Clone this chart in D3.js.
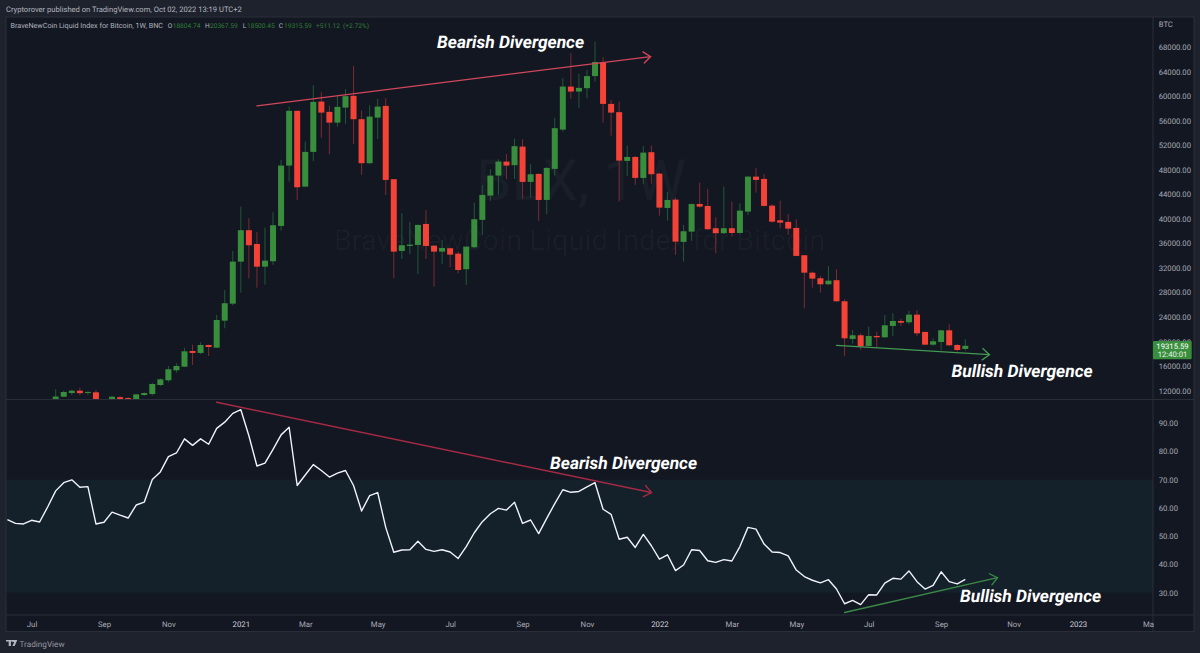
<!DOCTYPE html>
<html><head><meta charset="utf-8">
<script src="https://cdn.jsdelivr.net/npm/d3@7/dist/d3.min.js"></script>
<style>
html,body{margin:0;padding:0;background:#1e222d;overflow:hidden}
svg{display:block;text-rendering:geometricPrecision}
text{font-family:Roboto,sans-serif}
</style></head><body><svg id="c" width="1200" height="653"></svg>
<script>
// Weekly candles, week 0 = 27 Jul 2020
const opens=[9900,11020,11625,12000,11750,11740,10250,10400,10950,10800,10600,11300,11460,12930,13700,15330,15910,18470,18150,19450,19010,23410,26180,33030,38150,35900,32210,33090,38840,48680,57600,45250,50910,59110,57430,55680,58130,60040,56240,49070,56500,58400,46460,34770,35580,35750,39170,35630,34660,35210,34330,31790,35370,39830,43790,47050,49330,48740,51770,46020,47320,43080,48140,54540,61550,60740,61290,63260,65530,58730,57380,49440,50090,46670,50860,47370,41780,43130,36240,37920,42430,42100,38470,37660,38470,37700,41180,46880,46510,42150,39770,39500,38520,34070,31230,30320,29340,30000,26570,20430,21030,19290,20920,20700,22550,23360,23150,24390,21570,19500,19940,21840,19450,18804.74];
const closes=[11050,11790,12000,11600,11800,10400,10400,11020,10600,10600,11400,11620,13090,13850,15490,16030,18420,18150,19450,19120,23520,26250,33030,38150,35700,32210,33190,38960,48680,57600,45150,50910,59060,57310,55680,58240,59990,56240,49070,56660,58290,46340,34660,35700,35800,39010,35580,34660,35260,34170,31670,35470,39940,43900,47050,49330,48680,51840,46020,47270,43080,48300,54770,61550,60740,61340,63260,65550,58730,57310,49490,50090,46670,50790,47270,41830,43080,36290,37980,42410,41990,38310,37660,38470,37700,41340,46880,46340,42110,39540,39380,38410,33960,31230,30260,29340,29930,26570,20540,21030,19240,20920,20700,22660,23360,23080,24390,21350,19500,20050,21840,19400,18630,19315.59];
const highs=[12230,12000,12160,12490,11900,12110,10600,11130,11100,10950,11450,11740,13300,14020,16030,16470,19010,19500,19890,19500,24340,28410,34770,42000,40100,37820,38570,41080,49600,58290,57650,52590,61780,60640,58460,60040,61130,64920,57640,58490,59550,59660,46500,40920,39500,39100,41450,35700,36560,35300,34660,35500,42640,45480,48090,49720,50580,53030,52980,48900,47400,48400,56450,62920,67000,63620,64280,68890,66340,59380,59110,51940,50200,51890,51940,47500,44390,43460,39010,42500,45900,44880,40260,45250,42810,42550,47000,48250,47320,42380,42970,40800,39940,34100,31400,30700,32330,31790,26900,21890,21350,22430,21620,24340,24620,23690,25040,25150,21650,20540,21900,22820,19600,20367.59];
const lows=[9800,10950,11300,11300,11300,10000,9900,10200,10100,10200,10400,11150,11200,12750,13370,14930,15860,16190,17950,17650,18950,22170,25900,27970,30320,28790,29280,32500,38080,46070,43080,45150,49390,53240,50530,55030,55470,52210,47160,48900,53000,43900,30320,33470,34280,31020,33470,28950,32650,32110,31130,29230,35200,37380,42920,43900,46460,46510,43250,43460,39660,40750,47050,54220,59550,58080,59660,62370,55680,53560,42810,47000,45530,45640,45740,40530,39710,34120,33030,36400,41830,38190,34400,37500,37100,37600,40590,44270,41990,39380,38470,37380,33900,25430,28790,27970,29200,26500,17660,19660,18680,19200,19070,20640,20920,22550,22820,20920,19400,19300,18630,19300,18360,18500.45];
// RSI, first point is 6 weeks before week 0
const rsiFirstWeek=-6;
const rsi=[55.8,54.5,54.3,55.6,55.0,60.3,66.0,68.9,69.9,67.3,67.5,54.3,54.9,58.5,57.4,56.4,61.0,62.0,70.0,72.7,78.1,79.4,84.4,82.1,84.4,82.5,88.1,90.3,93.4,94.7,85.5,74.8,75.8,80.7,85.8,88.5,67.9,71.6,75.3,73.2,70.9,72.3,73.2,67.9,58.9,64.3,65.4,53.1,44.3,45.1,45.2,48.2,45.3,44.6,45.2,44.4,42.1,46.3,51.2,55.1,57.9,59.8,59.2,62.0,54.5,55.7,50.9,56.3,61.5,66.4,65.5,65.8,67.4,68.9,59.5,57.7,48.9,49.6,46.0,50.6,46.6,41.9,43.4,37.8,39.8,45.2,44.9,41.3,40.7,41.7,41.2,46.3,53.1,52.5,47.2,44.4,44.2,43.0,38.0,35.7,34.4,33.5,34.6,31.3,26.1,27.3,25.8,29.3,29.2,33.4,35.1,34.8,37.7,33.9,31.3,32.6,37.4,33.9,33.1,34.7];
const priceTicks=[12000,16000,20000,24000,28000,32000,36000,40000,44000,48000,52000,56000,60000,64000,68000];
const rsiTicks=[30,40,50,60,70,80,90];
const rsiBand=[30,70];
const timeWeeks=[-3,6,14,23,31,40,49,58,66,75,84,92,101,110,119,127,136];
const timeLabels=["Jul","Sep","Nov","2021","Mar","May","Jul","Sep","Nov","2022","Mar","May","Jul","Sep","Nov","2023","Ma"];
// Trend arrows: [week, value] start and tip
const priceBear=[[25,58400],[73.9,66440]];
const priceBull=[[97,19400],[116,17870]];
const rsiBear=[[20,97.3],[74,65.4]];
const rsiBull=[[98,23],[117,35.3]];
const lastClose=closes[closes.length-1];

const svg=d3.select("#c");
const L=6,R=1194,PA=1153,T=17,P1=399.5,P2=615,B=631.5;
const x=d3.scaleLinear().domain([0,113]).range([55.7,965.3]);
const yP=d3.scaleLinear().domain([12000,68000]).range([390.7,47]);
const yR=d3.scaleLinear().domain([30,90]).range([592.7,423]);
const GREEN="#388e3c",RED="#f44336",GW="#1f5a36",RW="#7d2a30";

svg.append("rect").attr("x",0).attr("y",0).attr("width",1200).attr("height",653).attr("fill","#1e222d");
svg.append("rect").attr("x",L).attr("y",T).attr("width",R-L).attr("height",B-T).attr("fill","#131722");
const defs=svg.append("defs");
defs.append("clipPath").attr("id","top").append("rect").attr("x",L).attr("y",T).attr("width",PA-L).attr("height",P1-T);
defs.append("clipPath").attr("id","bot").append("rect").attr("x",L).attr("y",P1).attr("width",PA-L).attr("height",P2-P1);

// watermark
const wm=svg.append("g").attr("fill","#fff").attr("fill-opacity",0.032).attr("text-anchor","middle");
wm.append("text").attr("x",581).attr("y",200).attr("font-size",57).text("BLX, 1W");
wm.append("text").attr("x",579.5).attr("y",250).attr("font-size",29).text("BraveNewCoin Liquid Index for Bitcoin");

// RSI band
svg.append("rect").attr("x",L).attr("width",PA-L)
  .attr("y",yR(rsiBand[1])).attr("height",yR(rsiBand[0])-yR(rsiBand[1])).attr("fill","#14212b");

// candles
const idx=d3.range(opens.length);
const cg=svg.append("g").attr("clip-path","url(#top)");
cg.selectAll("line.w").data(idx).join("line").attr("class","w")
  .attr("x1",i=>x(i)).attr("x2",i=>x(i)).attr("y1",i=>yP(highs[i])).attr("y2",i=>yP(lows[i]))
  .attr("stroke",i=>closes[i]>=opens[i]?GW:RW).attr("stroke-width",1);
cg.selectAll("rect.b").data(idx).join("rect").attr("class","b")
  .attr("x",i=>x(i)-3).attr("width",6)
  .attr("y",i=>yP(Math.max(opens[i],closes[i])))
  .attr("height",i=>Math.max(1,Math.abs(yP(opens[i])-yP(closes[i]))))
  .attr("fill",i=>closes[i]>=opens[i]?GREEN:RED);

// RSI line
const rg=svg.append("g").attr("clip-path","url(#bot)");
rg.append("path").datum(rsi).attr("fill","none").attr("stroke","#f0f3fa").attr("stroke-width",1.4).attr("stroke-linejoin","round")
  .attr("d",d3.line().x((d,i)=>x(i+rsiFirstWeek)).y(d=>yR(d)));

// structure lines
const lines=svg.append("g").attr("stroke","#2a2e39").attr("stroke-width",1);
lines.append("line").attr("x1",L).attr("x2",R).attr("y1",P1).attr("y2",P1);
lines.append("line").attr("x1",L).attr("x2",R).attr("y1",P2).attr("y2",P2);
lines.append("line").attr("x1",PA).attr("x2",PA).attr("y1",T).attr("y2",B);
lines.append("rect").attr("x",L).attr("y",T).attr("width",R-L).attr("height",B-T).attr("fill","none");

// arrows
function arrow(pts,yS,col,w){
  const a=[x(pts[0][0]),yS(pts[0][1])],b=[x(pts[1][0]),yS(pts[1][1])];
  const g=svg.append("g").attr("fill","none").attr("stroke",col).attr("stroke-width",w).attr("stroke-linecap","round");
  g.append("path").attr("d",d3.line()([a,b]));
  const ang=Math.atan2(b[1]-a[1],b[0]-a[0]),s=9,o=0.68;
  const h1=[b[0]-s*Math.cos(ang-o),b[1]-s*Math.sin(ang-o)],h2=[b[0]-s*Math.cos(ang+o),b[1]-s*Math.sin(ang+o)];
  g.append("path").attr("d",d3.line()([h1,b,h2]));
}
arrow(priceBear,yP,"#d2475a",1.3);
arrow(priceBull,yP,"#439a52",1.3);
arrow(rsiBear,yR,"#a52a44",1.5);
arrow(rsiBull,yR,"#3b8a47",1.3);

// axes
function styleAxis(g,fs,col){
  g.select(".domain").remove();
  g.selectAll("line").remove();
  g.selectAll("text").attr("font-size",fs).attr("fill",col).attr("font-family","Roboto,sans-serif");
}
const ax1=svg.append("g").attr("transform",`translate(${PA},0)`)
  .call(d3.axisRight(yP).tickValues(priceTicks).tickSize(0).tickPadding(5.7).tickFormat(d3.format(".2f")));
styleAxis(ax1,7.7,"#a8abb4");
const ax2=svg.append("g").attr("transform",`translate(${PA},0)`)
  .call(d3.axisRight(yR).tickValues(rsiTicks).tickSize(0).tickPadding(5.7).tickFormat(d3.format(".2f")));
styleAxis(ax2,7.7,"#a8abb4");
const ax3=svg.append("g").attr("transform",`translate(0,${P2})`)
  .call(d3.axisBottom(x).tickValues(timeWeeks).tickSize(0).tickPadding(6).tickFormat((d,i)=>timeLabels[i]));
styleAxis(ax3,7.8,"#a8abb4");
ax3.selectAll("text").filter(d=>d===23||d===75||d===127).attr("fill","#d1d4dc");
ax3.selectAll("text").filter(d=>d===136).attr("text-anchor","end").attr("x",0).attr("dx","3");

svg.append("text").attr("x",1158.7).attr("y",26.5).attr("font-size",7.7).attr("fill","#a8abb4").text("BTC");

// last price tag
const tagY=yP(lastClose);
svg.append("rect").attr("x",PA).attr("width",38.7).attr("y",tagY-4.8).attr("height",18.3).attr("rx",1).attr("fill","#388e3c");
svg.append("text").attr("x",1172.5).attr("y",tagY+3).attr("text-anchor","middle").attr("font-size",7.7).attr("fill","#fff").text(d3.format(".2f")(lastClose));
svg.append("text").attr("x",1172.5).attr("y",tagY+11.2).attr("text-anchor","middle").attr("font-size",7.7).attr("fill","#e8f2e8").text("12:40:01");

// header
svg.append("text").attr("x",6).attr("y",12).attr("font-size",7.6).attr("fill","#b2b5be").text("Cryptorover published on TradingView.com, Oct 02, 2022 13:19 UTC+2");
const hdr=[[10.5,"BraveNewCoin Liquid Index for Bitcoin, 1W, BNC","#b2b5be"],[167.7,"O","#b2b5be"],[172.7,"18804.74","#2e7d32"],[205,"H","#b2b5be"],[210,"20367.59","#2e7d32"],[242.7,"L","#b2b5be"],[247,"18500.45","#2e7d32"],[278.7,"C","#b2b5be"],[284,"19315.59","#2e7d32"],[316,"+511.12","#2e7d32"],[343,"(+2.72%)","#2e7d32"]];
svg.selectAll("text.h").data(hdr).join("text").attr("class","h").attr("x",d=>d[0]).attr("y",27.5).attr("font-size",d=>d[0]===10.5?7.2:6.6).attr("fill",d=>d[2]).text(d=>d[1]);

// annotations
const notes=[[437,47.5,"Bearish Divergence"],[951.5,376.5,"Bullish Divergence"],[550,468.5,"Bearish Divergence"],[960,602,"Bullish Divergence"]];
svg.selectAll("text.n").data(notes).join("text").attr("class","n").attr("x",d=>d[0]).attr("y",d=>d[1])
  .attr("font-family","'Open Sans',sans-serif").attr("font-weight",700).attr("font-style","italic").attr("font-size",17.4).attr("fill","#fff").text(d=>d[2]);

// footer
svg.append("path").attr("d","M6 640h6.5v1.6h-1.6v4.5h-2.2v-4.5H6zM12.5 640h4.8l-2.6 6.1h-2.3l1.8-4.2h-1.7z").attr("fill","#b2b5be");
svg.append("text").attr("x",19.5).attr("y",646.5).attr("font-size",8.2).attr("fill","#9598a1").text("TradingView");
</script></body></html>
